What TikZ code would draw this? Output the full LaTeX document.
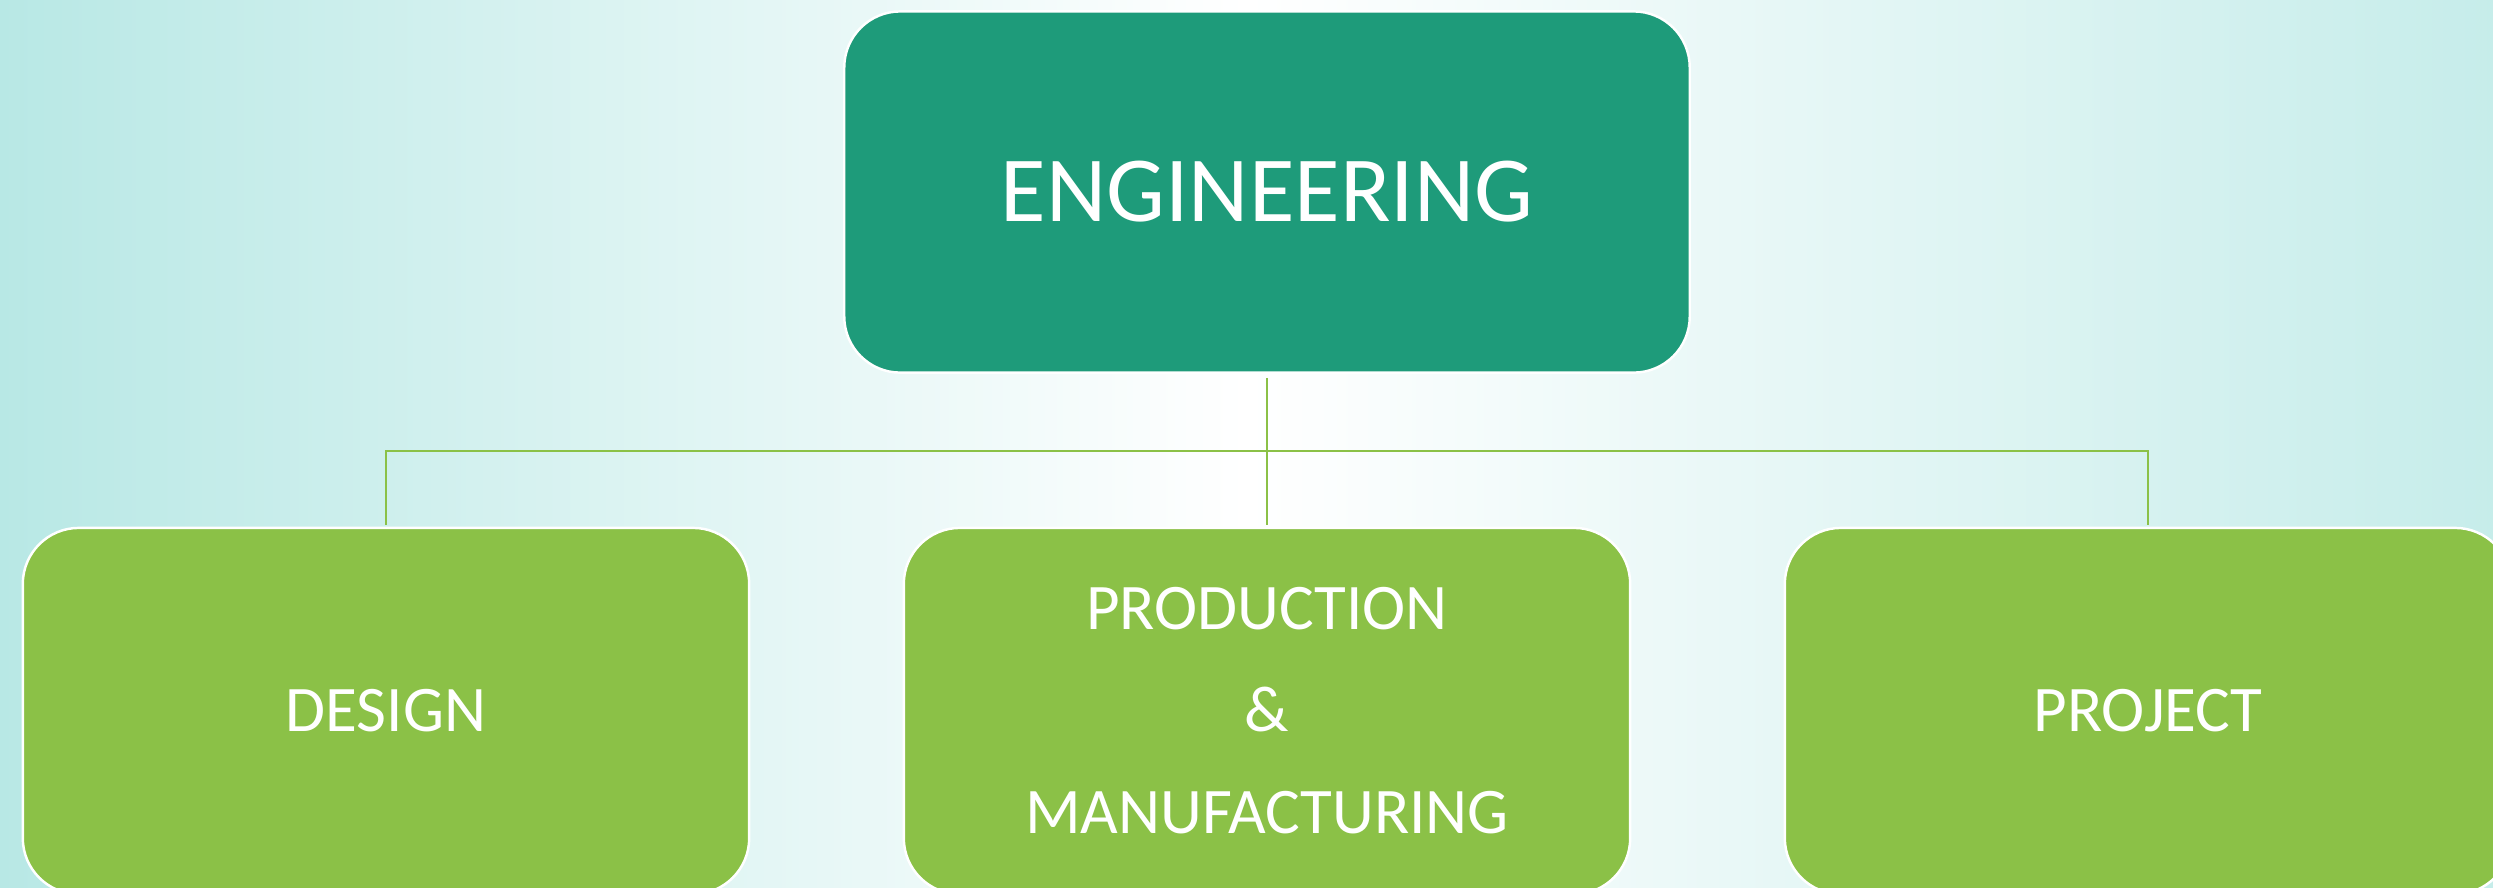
\documentclass[tikz,border=0pt]{standalone}
\usepackage{fontspec}
\setmainfont{Carlito}
\definecolor{sarcelle}{RGB}{30,155,122}
\definecolor{vertclair}{RGB}{139,193,71}
\definecolor{fondbord}{RGB}{184,232,229}
\begin{document}
\begin{tikzpicture}[x=0.01cm,y=-0.01cm,
    boite/.style={rounded corners=0.56cm, draw=white, line width=0.7pt, text=white,
      align=center, inner sep=0pt},
    lien/.style={vertclair, line width=0.7pt}]
    % fond
    \useasboundingbox (0,0) rectangle (2493,887);
    \clip (0,0) rectangle (2493,887);
    \shade[left color=fondbord, right color=fondbord!80, middle color=white] (0,0) rectangle (2493,887);
    
    % boites
    \node[boite, fill=sarcelle, minimum width=8.45cm, minimum height=3.61cm,
      font=\fontsize{26.5}{32}\selectfont] (eng) at (1267,192) {ENGINEERING};
    \node[boite, fill=vertclair, minimum width=7.26cm, minimum height=3.66cm,
      font=\fontsize{18.5}{29}\selectfont] (design) at (386,711) {DESIGN};
    \node[boite, fill=vertclair, minimum width=7.26cm, minimum height=3.66cm,
      font=\fontsize{18.5}{29}\selectfont] (prod) at (1267,711) {PRODUCTION\\ \&\\ MANUFACTURING};
    \node[boite, fill=vertclair, minimum width=7.26cm, minimum height=3.66cm,
      font=\fontsize{18.5}{29}\selectfont] (projet) at (2148,711) {PROJECT};
    
    % liens
    \coordinate (barre) at (1267,451);
    \draw[lien] ([yshift=-0.04cm]eng.south) -- ([yshift=0.02cm]prod.north);
    \draw[lien] ([yshift=0.02cm]design.north) -- (design.north |- barre) -- (projet.north |- barre) -- ([yshift=0.02cm]projet.north);
  \end{tikzpicture}
\end{document}
